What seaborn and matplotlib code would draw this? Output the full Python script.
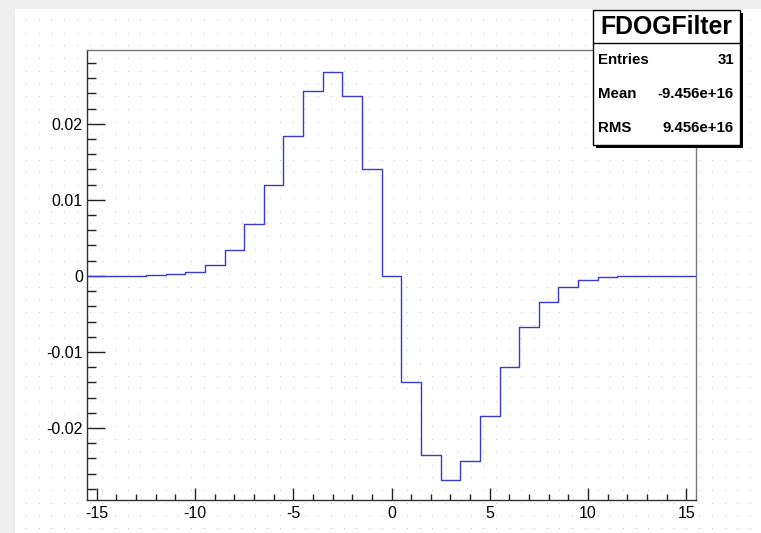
import numpy as np
import pandas as pd
import matplotlib
matplotlib.use("Agg")
import matplotlib.pyplot as plt
from matplotlib.ticker import MultipleLocator, FixedLocator
from matplotlib.patches import Rectangle
import seaborn as sns

# ---- data ----
bin_centers = list(range(-15, 16))
bin_values = [0.0, 0.0, 0.00002, 0.00006, 0.0002, 0.00057, 0.00147, 0.00337,
              0.00678, 0.01196, 0.01837, 0.0243, 0.0268, 0.0236, 0.0140, 0.0,
              -0.0140, -0.0236, -0.0268, -0.0243, -0.01837, -0.01196, -0.00678,
              -0.00337, -0.00147, -0.00057, -0.0002, -0.00006, -0.00002, 0.0, 0.0]
x_ticks = [-15, -10, -5, 0, 5, 10, 15]
y_ticks = [-0.02, -0.01, 0.0, 0.01, 0.02]
y_tick_labels = ["-0.02", "-0.01", "0", "0.01", "0.02"]
stats_title = "FDOGFilter"
stats_rows = [("Entries", "31"), ("Mean", "-9.456e+16"), ("RMS", "9.456e+16")]

df = pd.DataFrame({"x": bin_centers, "w": bin_values})

sns.set_theme(style="white")
plt.rcParams["font.family"] = ["Liberation Sans", "DejaVu Sans"]
plt.rcParams["axes.unicode_minus"] = False
plt.rcParams["text.color"] = "black"

W, H = 761, 533
fig = plt.figure(figsize=(W / 100, H / 100), dpi=100)
fig.patch.set_facecolor("white")

def fx(px):
    return px / W

def fy(py):
    return 1 - py / H

# window chrome (light gray band at top and left)
fig.add_artist(Rectangle((0, fy(9)), 1, 9 / H, transform=fig.transFigure,
                         facecolor="#efefef", edgecolor="none", zorder=0))
fig.add_artist(Rectangle((0, 0), 15 / W, 1, transform=fig.transFigure,
                         facecolor="#efefef", edgecolor="none", zorder=0))

# main axes (drawn above the dotted canvas pattern)
ax = fig.add_axes([fx(87), fy(500), fx(696) - fx(87), fy(50) - fy(500)], zorder=20)
ax.set_facecolor("none")
sns.histplot(data=df, x="x", weights="w", discrete=True, element="step", fill=False,
             color="#3a3acc", linewidth=1.0, ax=ax)
ax.set_xlim(-15.5, 15.5)
ax.set_ylim(-0.02947, 0.0297)
ax.set_xlabel("")
ax.set_ylabel("")

ax.xaxis.set_major_locator(FixedLocator(x_ticks))
ax.xaxis.set_minor_locator(MultipleLocator(1))
ax.yaxis.set_major_locator(FixedLocator(y_ticks))
ax.set_yticklabels(y_tick_labels)
ax.yaxis.set_minor_locator(MultipleLocator(0.002))
ax.tick_params(axis="x", which="major", direction="in", length=8.6, width=1,
               color="#222222", labelsize=11.5, pad=4, bottom=True)
ax.tick_params(axis="x", which="minor", direction="in", length=4.3, width=1,
               color="#222222", bottom=True)
ax.tick_params(axis="y", which="major", direction="in", length=13, width=1,
               color="#222222", labelsize=11.5, pad=3, left=True)
ax.tick_params(axis="y", which="minor", direction="in", length=6.5, width=1,
               color="#222222", left=True)
for lab in ax.get_xticklabels() + ax.get_yticklabels():
    lab.set_color("black")
for s in ["left", "bottom"]:
    ax.spines[s].set_color("#333333")
    ax.spines[s].set_linewidth(1.0)
for s in ["top", "right"]:
    ax.spines[s].set_color("#777777")
    ax.spines[s].set_linewidth(1.0)
ax.grid(False)

# stats box with shadow
bx0, by0, bx1, by1 = 593, 10, 740, 145
fig.add_artist(Rectangle((fx(bx0 + 3), fy(by1 + 3)), (bx1 - bx0) / W, (by1 - by0) / H,
                         transform=fig.transFigure, facecolor="black",
                         edgecolor="none", zorder=25))
fig.add_artist(Rectangle((fx(bx0), fy(by1)), (bx1 - bx0) / W, (by1 - by0) / H,
                         transform=fig.transFigure, facecolor="white",
                         edgecolor="black", linewidth=1.0, zorder=26))
fig.add_artist(plt.Line2D([fx(bx0), fx(bx1)], [fy(43), fy(43)],
                          transform=fig.transFigure, color="black",
                          linewidth=1.0, zorder=27))
fig.text(fx((bx0 + bx1) / 2), fy(27), stats_title, ha="center", va="center",
         fontsize=17.8, fontweight="bold", color="black", zorder=28)
for i, (k, v) in enumerate(stats_rows):
    yy = fy(60 + i * 34)
    fig.text(fx(598), yy, k, ha="left", va="center", fontsize=10.8,
             fontweight="bold", color="black", zorder=28)
    fig.text(fx(734), yy, v, ha="right", va="center", fontsize=10.8,
             fontweight="bold", color="black", zorder=28)

# dotted canvas pattern
xs = np.arange(26, W, 12.7)
ys = np.arange(20, H, 12.7)
gx, gy = np.meshgrid(xs, ys)
dot_ax = fig.add_axes([0, 0, 1, 1], zorder=10)
dot_ax.set_xlim(0, W)
dot_ax.set_ylim(H, 0)
dot_ax.axis("off")
dot_ax.patch.set_alpha(0)
dot_ax.scatter(gx.ravel(), gy.ravel(), s=0.5, color="#c4c4c4", linewidths=0)

fig.savefig("out.png", dpi=100)
